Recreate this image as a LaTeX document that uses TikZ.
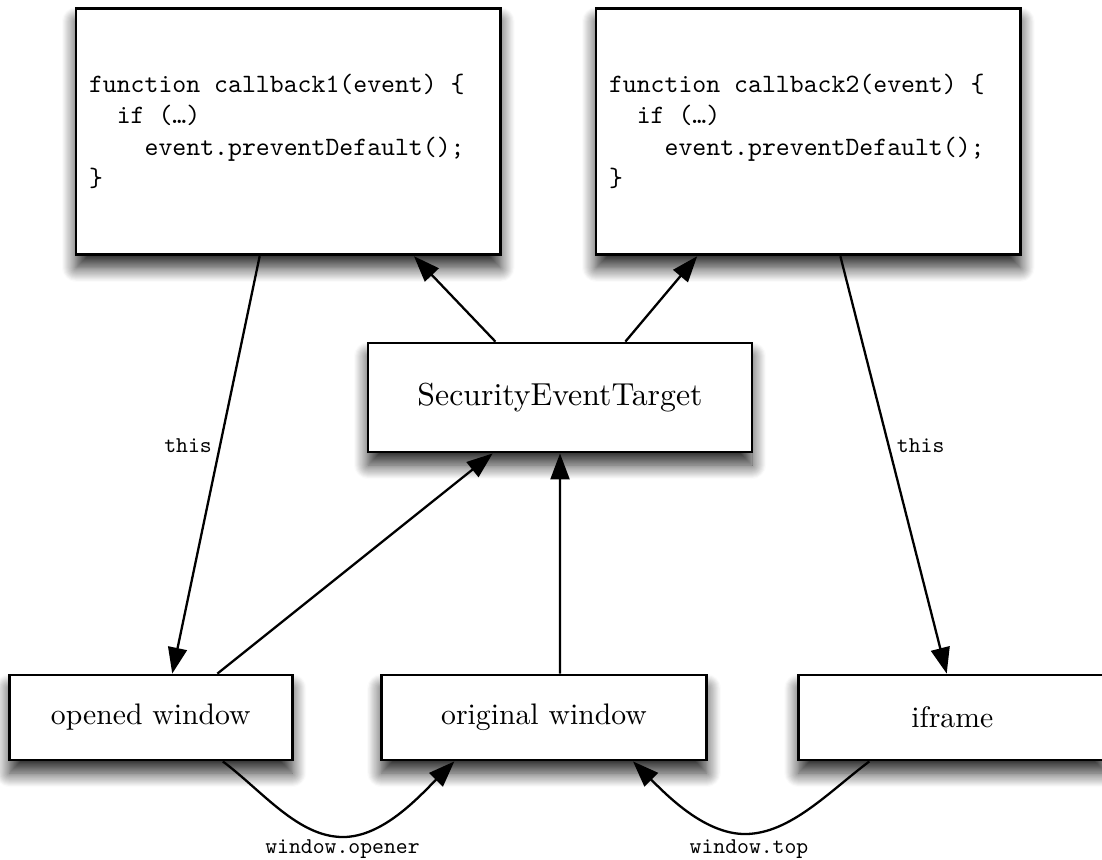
\documentclass[tikz,border=0pt]{standalone}
\usepackage{fontspec}
\usetikzlibrary{arrows.meta,calc,shadows.blur}
% the 10pt design of Latin Modern, used at every size
\newfontfamily\romten{lmroman10-regular.otf}
\newfontfamily\monoten{lmmono10-regular.otf}
\newcommand\codefont[2]{\monoten\fontsize{#1}{#2}\selectfont}
% keep spaces one character wide inside ragged nodes
\newcommand\fixedspaces{\spaceskip=0.525em\xspaceskip=0.525em\relax}
\begin{document}
\begin{tikzpicture}[x=0.5pt,y=-0.5pt,
  box/.style={draw=black, line width=1.4pt, fill=white, inner sep=0pt,
    blur shadow={shadow xshift=0pt, shadow yshift=-6.5pt,
      shadow blur radius=7pt, shadow blur steps=14, shadow opacity=85}},
  codebox/.style={box, minimum width=212.3pt, minimum height=123.3pt,
    inner xsep=6.5pt, text width=199.3pt, align=left,
    font=\codefont{13.25pt}{15.65pt}},
  winbox/.style={box, minimum height=42.5pt,
    font=\romten\fontsize{14.85pt}{17pt}\selectfont},
  lbl/.style={font=\codefont{11.3pt}{13pt}, inner sep=3.5pt},
  arr/.style={line width=1.15pt, -{Triangle[length=13pt,width=9.5pt]}}]

\useasboundingbox (0,0) rectangle (1102,859);

% handler boxes
\node[codebox] (cb1) at (288.3,131.5)
  {\fixedspaces function callback1(event) \{\\
   ~~if (…)\\
   ~~~~event.preventDefault();\\
   \}};
\node[codebox] (cb2) at (808.3,131.5)
  {\fixedspaces function callback2(event) \{\\
   ~~if (…)\\
   ~~~~event.preventDefault();\\
   \}};

% event target
\node[box, minimum width=192pt, minimum height=54.5pt,
      font=\romten\fontsize{15.9pt}{18pt}\selectfont] (set) at (560,397.5)
  {SecurityEventTarget};

% windows
\node[winbox, minimum width=141.5pt] (opened) at (150.8,717.5) {opened window};
\node[winbox, minimum width=162.8pt] (orig) at (544,717.5) {original window};
\node[winbox, minimum width=154pt] (iframe) at (952.3,717.5) {iframe};

% bottom turning points of the curved links
\coordinate (openerlow) at (343,837);
\coordinate (toplow) at (745,834);

% handlers bound to windows
\draw[arr] ($(cb1.south west)!0.433!(cb1.south east)$)
  -- node[lbl, left, pos=0.455] {this}
  ($(opened.north west)!0.575!(opened.north east)$);
\draw[arr] ($(cb2.south west)!0.575!(cb2.south east)$)
  -- node[lbl, right, pos=0.455] {this}
  ($(iframe.north west)!0.482!(iframe.north east)$);

% target dispatching to handlers
\draw[arr] ($(set.north west)!0.333!(set.north east)$)
  -- ($(cb1.south west)!0.794!(cb1.south east)$);
\draw[arr] ($(set.north west)!0.669!(set.north east)$)
  -- ($(cb2.south west)!0.240!(cb2.south east)$);

% windows feeding the target
\draw[arr] ($(opened.north west)!0.733!(opened.north east)$)
  -- ($(set.south west)!0.326!(set.south east)$);
\draw[arr] ($(orig.north west)!0.549!(orig.north east)$)
  -- (set.south);

% window references
\draw[arr] ($(opened.south west)!0.752!(opened.south east)$)
  .. controls +(40,30) and +(-45,0) .. (openerlow)
  .. controls +(40,0) and +(-35,35) ..
  ($(orig.south west)!0.227!(orig.south east)$);
\node[lbl, anchor=center] (openerlbl) at (342.5,849) {window.opener};

\draw[arr] ($(iframe.south west)!0.233!(iframe.south east)$)
  .. controls +(-40,30) and +(45,0) .. (toplow)
  .. controls +(-40,0) and +(35,35) ..
  ($(orig.south west)!0.771!(orig.south east)$);
\node[lbl, anchor=center] (toplbl) at (749,849) {window.top};

\end{tikzpicture}
\end{document}
